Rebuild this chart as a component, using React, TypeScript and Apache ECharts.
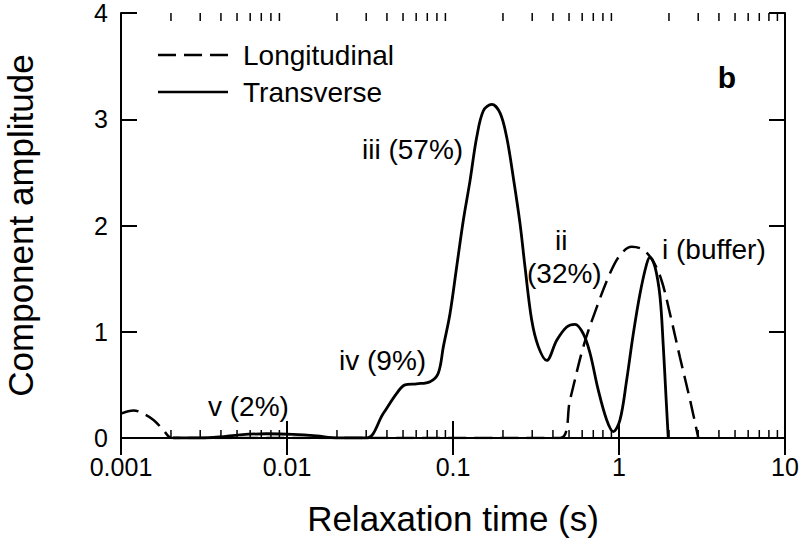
import React, { useEffect, useRef } from "react";
import * as echarts from "echarts";

// Relaxation time (s) and component amplitude
const transverseX = [0.00206, 0.003, 0.00395, 0.00521, 0.00753, 0.01089, 0.0151, 0.0199, 0.0302, 0.038, 0.0458, 0.0514, 0.0604, 0.0727, 0.0815, 0.0875, 0.0959, 0.1052, 0.1154, 0.1266, 0.1389, 0.1524, 0.1711, 0.192, 0.2106, 0.2309, 0.2533, 0.2715, 0.2979, 0.3266, 0.3666, 0.4217, 0.4842, 0.5433, 0.6098, 0.6687, 0.7503, 0.843, 0.924, 1.014, 1.112, 1.219, 1.339, 1.469, 1.538, 1.648, 1.766, 1.849, 1.919, 1.98];
const transverseY = [0, 0, 0.01, 0.03, 0.04, 0.035, 0.02, 0, 0, 0.23, 0.42, 0.5, 0.51, 0.53, 0.61, 0.86, 1.17, 1.61, 2.05, 2.42, 2.83, 3.08, 3.14, 3.06, 2.83, 2.45, 2.02, 1.61, 1.11, 0.86, 0.73, 0.92, 1.045, 1.07, 0.98, 0.8, 0.45, 0.17, 0.06, 0.17, 0.545, 0.98, 1.36, 1.64, 1.7, 1.61, 1.33, 0.86, 0.39, 0];

const longitudinalX = [0.001, 0.00119, 0.00136, 0.00157, 0.0018, 0.00202, 0.01, 0.1, 0.4413, 0.507, 0.61, 0.734, 0.883, 1.014, 1.191, 1.402, 1.61, 1.807, 2.028, 2.328, 2.677, 3.006];
const longitudinalY = [0.23, 0.26, 0.23, 0.17, 0.075, 0, 0, 0, 0, 0.36, 0.86, 1.23, 1.55, 1.72, 1.8, 1.77, 1.66, 1.48, 1.17, 0.76, 0.36, 0];

const minorTickValues = [
  0.002, 0.003, 0.004, 0.005, 0.006, 0.007, 0.008, 0.009,
  0.02, 0.03, 0.04, 0.05, 0.06, 0.07, 0.08, 0.09,
  0.2, 0.3, 0.4, 0.5, 0.6, 0.7, 0.8, 0.9,
  2, 3, 4, 5, 6, 7, 8, 9,
];

const legendLabels = ["Longitudinal", "Transverse"];
const annotations = [
  { text: "iii (57%)", x: 362, y: 149 },
  { text: "ii", x: 555, y: 240 },
  { text: "(32%)", x: 527, y: 273 },
  { text: "i (buffer)", x: 662, y: 249 },
  { text: "iv (9%)", x: 339, y: 360 },
  { text: "v (2%)", x: 208, y: 406 },
];

const FONT = "'Liberation Sans', Arial, Helvetica, sans-serif";

export default function App() {
  const ref = useRef<HTMLDivElement>(null);
  useEffect(() => {
    if (!ref.current) return;
    const chart = echarts.init(ref.current, null, { renderer: "svg" });
    const fmt = (v: number) => String(parseFloat(Number(v).toPrecision(3)));
    const xBase = {
      type: "log" as const,
      logBase: 10,
      min: 0.001,
      max: 10,
      splitLine: { show: false },
      axisLine: { show: true, lineStyle: { color: "#000", width: 2 } },
      axisTick: { show: true, inside: true, length: 17, lineStyle: { color: "#000", width: 2 } },
    };
    const yBase = {
      type: "value" as const,
      min: 0,
      max: 4,
      interval: 1,
      splitLine: { show: false },
      axisLine: { show: true, lineStyle: { color: "#000", width: 2 } },
      axisTick: { show: true, inside: true, length: 16, lineStyle: { color: "#000", width: 2 } },
    };
    const textStyleBase = { fontFamily: FONT, color: "#000" };
    chart.setOption({
      animation: false,
      backgroundColor: "#fff",
      grid: { left: 121, right: 15, top: 13, bottom: 102, containLabel: false, outerBoundsMode: "none" },
      xAxis: [
        {
          ...xBase,
          position: "bottom",
          name: "Relaxation time (s)",
          nameLocation: "middle",
          nameGap: 63,
          nameTextStyle: { ...textStyleBase, fontSize: 35 },
          axisLabel: { ...textStyleBase, fontSize: 25, margin: 16, formatter: fmt },
        },
        {
          ...xBase,
          position: "top",
          axisLabel: { show: false },
        },
      ],
      yAxis: [
        {
          ...yBase,
          position: "left",
          name: "Component amplitude",
          nameLocation: "middle",
          nameGap: 83,
          nameTextStyle: { ...textStyleBase, fontSize: 35 },
          axisLabel: { ...textStyleBase, fontSize: 25, margin: 13 },
        },
        {
          ...yBase,
          position: "right",
          axisLabel: { show: false },
        },
      ],
      series: [
        {
          name: legendLabels[0],
          type: "line",
          data: longitudinalX.map((x, i) => [x, longitudinalY[i]]),
          smooth: 0.35,
          symbol: "none",
          lineStyle: { color: "#000", width: 2.5, type: [18, 8] },
        },
        {
          name: legendLabels[1],
          type: "line",
          data: transverseX.map((x, i) => [x, transverseY[i]]),
          smooth: 0.35,
          symbol: "none",
          lineStyle: { color: "#000", width: 2.8 },
        },
        {
          type: "custom",
          data: minorTickValues.map((v) => [v, 0]),
          encode: { x: 0, y: 1 },
          clip: false,
          silent: true,
          renderItem: (_params: any, api: any) => {
            const v = api.value(0);
            const pb = api.coord([v, 0]);
            const pt = api.coord([v, 4]);
            const st = { stroke: "#000", lineWidth: 1.5 };
            return {
              type: "group",
              children: [
                { type: "line", shape: { x1: pb[0], y1: pb[1], x2: pb[0], y2: pb[1] - 8 }, style: st },
                { type: "line", shape: { x1: pt[0], y1: pt[1], x2: pt[0], y2: pt[1] + 8 }, style: st },
              ],
            };
          },
        },
      ],
      graphic: [
        { type: "line", shape: { x1: 158, y1: 55, x2: 228, y2: 55 }, style: { stroke: "#000", lineWidth: 2.5, lineDash: [18, 8] } },
        { type: "text", x: 243, y: 55, style: { text: legendLabels[0], font: `28px ${FONT}`, fill: "#000", textVerticalAlign: "middle" } },
        { type: "line", shape: { x1: 158, y1: 92, x2: 228, y2: 92 }, style: { stroke: "#000", lineWidth: 2.5 } },
        { type: "text", x: 243, y: 92, style: { text: legendLabels[1], font: `28px ${FONT}`, fill: "#000", textVerticalAlign: "middle" } },
        { type: "text", x: 727, y: 77, style: { text: "b", font: `bold 30px ${FONT}`, fill: "#000", textAlign: "center", textVerticalAlign: "middle" } },
        ...annotations.map((a) => ({
          type: "text",
          x: a.x,
          y: a.y,
          style: { text: a.text, font: `28px ${FONT}`, fill: "#000", textVerticalAlign: "middle" },
        })),
      ],
    });
    return () => chart.dispose();
  }, []);
  return (
    <div
      ref={ref}
      style={{ position: "fixed", left: 0, top: 0, width: 800, height: 540, background: "#fff" }}
    />
  );
}
